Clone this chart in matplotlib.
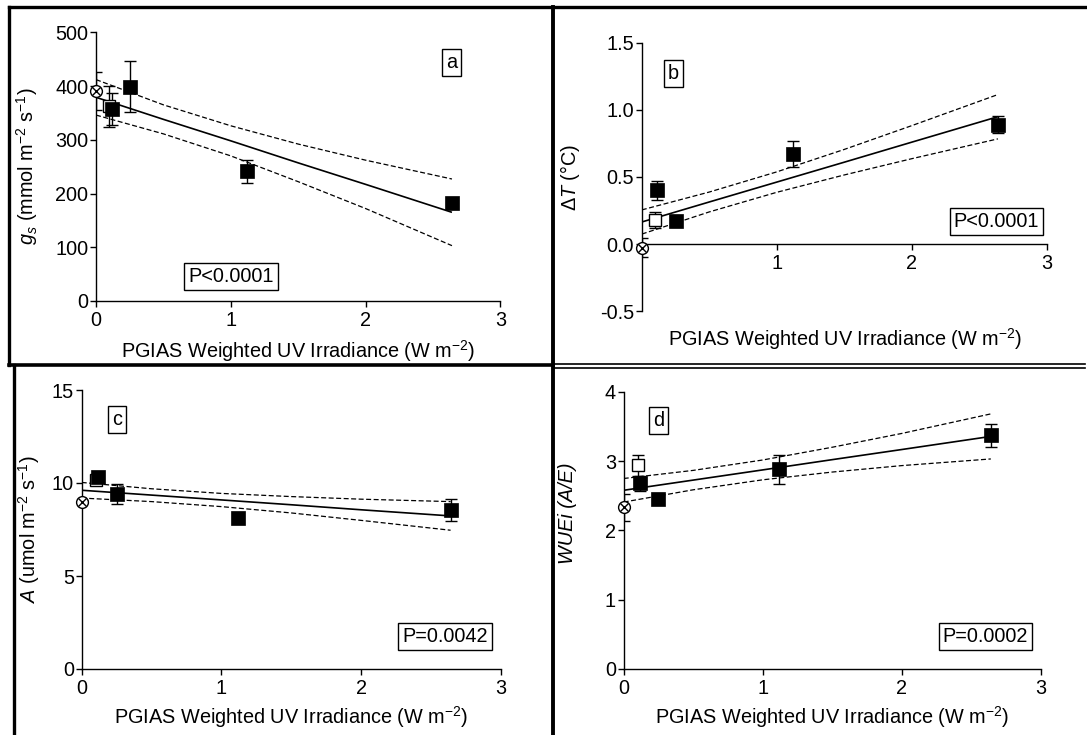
import matplotlib
matplotlib.use('Agg')
import matplotlib.pyplot as plt
from matplotlib.lines import Line2D

plt.rcParams['font.family'] = ['Liberation Sans', 'DejaVu Sans']
plt.rcParams['mathtext.fontset'] = 'custom'
plt.rcParams['mathtext.rm'] = 'Liberation Sans'
plt.rcParams['mathtext.it'] = 'Liberation Sans:italic'
plt.rcParams['mathtext.bf'] = 'Liberation Sans:bold'
plt.rcParams['axes.unicode_minus'] = False

# ---------------- data ----------------
uv_ctrl = 0.0
uv_open = 0.10
uv_filled = [0.115, 0.25, 1.12, 2.64]
fit_x = [0.0, 0.5, 1.0, 1.5, 2.0, 2.64]
x_ticks = [0, 1, 2, 3]
x_label = 'PGIAS Weighted UV Irradiance (W m$^{-2}$)'

# (a) stomatal conductance
gs_ctrl, gs_ctrl_err = 391, 36
gs_open, gs_open_err = 362, 38
gs_filled = [357, 399, 241, 182]
gs_filled_err = [30, 47, 21, 6]
gs_fit = [379, 338, 298, 257, 217, 165]
gs_upper = [412, 365, 326, 292, 262, 227]
gs_lower = [346, 311, 270, 222, 172, 103]
gs_ticks = [0, 100, 200, 300, 400, 500]
gs_ticklabels = ['0', '100', '200', '300', '400', '500']

# (b) leaf temperature difference
dt_ctrl, dt_ctrl_err = -0.025, 0.07
dt_open, dt_open_err = 0.18, 0.06
dt_filled = [0.40, 0.17, 0.67, 0.89]
dt_filled_err = [0.07, 0.03, 0.095, 0.065]
dt_fit = [0.165, 0.314, 0.462, 0.610, 0.759, 0.949]
dt_upper = [0.255, 0.388, 0.538, 0.705, 0.882, 1.114]
dt_lower = [0.075, 0.240, 0.386, 0.515, 0.636, 0.784]
dt_ticks = [-0.5, 0.0, 0.5, 1.0, 1.5]
dt_ticklabels = ['-0.5', '0.0', '0.5', '1.0', '1.5']

# (c) assimilation
a_ctrl, a_ctrl_err = 9.0, 0.1
a_open, a_open_err = 10.16, 0.1
a_filled = [10.34, 9.39, 8.13, 8.55]
a_filled_err = [0.15, 0.54, 0.1, 0.6]
a_fit = [9.61, 9.35, 9.09, 8.83, 8.56, 8.23]
a_upper = [10.03, 9.69, 9.44, 9.27, 9.13, 9.00]
a_lower = [9.19, 9.00, 8.73, 8.39, 7.99, 7.46]
a_ticks = [0, 5, 10, 15]
a_ticklabels = ['0', '5', '10', '15']

# (d) water use efficiency
w_ctrl, w_ctrl_err = 2.33, 0.2
w_open, w_open_err = 2.94, 0.15
w_filled = [2.68, 2.45, 2.88, 3.37]
w_filled_err = [0.11, 0.05, 0.21, 0.17]
w_fit = [2.578, 2.725, 2.872, 3.020, 3.166, 3.355]
w_upper = [2.748, 2.865, 3.015, 3.199, 3.398, 3.680]
w_lower = [2.408, 2.585, 2.729, 2.841, 2.934, 3.030]
w_ticks = [0, 1, 2, 3, 4]
w_ticklabels = ['0', '1', '2', '3', '4']

FS = 14.3
W, H = 1087, 735
fig = plt.figure(figsize=(W / 100, H / 100), dpi=100)


def px_axes(x0, x3, ytop, ybot):
    return fig.add_axes([x0 / W, 1 - ybot / H, (x3 - x0) / W, (ybot - ytop) / H])


def panel(ax, ctrl, ctrl_err, opn, opn_err, filled, filled_err, fit, up, lo,
          ylim, yticks, yticklabels, ylabel, ylab_xy, xlab_xy, letter, letter_xy,
          ptext, p_xy, xaxis_at_zero=False, xticklabels=None):
    ax.set_xlim(0, 3)
    ax.set_ylim(*ylim)
    ax.plot(fit_x, fit, color='k', lw=1.2, zorder=2, solid_capstyle='butt')
    ax.plot(fit_x, up, color='k', lw=0.9, ls=(0, (4, 2)), zorder=2)
    ax.plot(fit_x, lo, color='k', lw=0.9, ls=(0, (4, 2)), zorder=2)
    eb = dict(fmt='none', ecolor='k', elinewidth=1.0, capsize=4.5, capthick=1.0, zorder=3)
    for x, y, e in [(uv_ctrl, ctrl, ctrl_err), (uv_open, opn, opn_err)]:
        ax.errorbar([x], [y], yerr=[e], **eb)
    ax.errorbar(uv_filled, filled, yerr=filled_err, **eb)
    ax.plot([uv_ctrl], [ctrl], marker='o', ms=8.5, mfc='white', mec='k', mew=1.0,
            ls='none', zorder=4, clip_on=False)
    ax.plot([uv_ctrl], [ctrl], marker='x', ms=5.8, mec='k', mew=1.0,
            ls='none', zorder=5, clip_on=False)
    ax.plot([uv_open], [opn], marker='s', ms=8.5, mfc='white', mec='k', mew=1.0,
            ls='none', zorder=4, clip_on=False)
    ax.plot(uv_filled, filled, marker='s', ms=10.5, mfc='k', mec='k', mew=0.5,
            ls='none', zorder=6, clip_on=False)
    for sp in ['top', 'right']:
        ax.spines[sp].set_visible(False)
    ax.spines['left'].set_linewidth(1.0)
    ax.spines['bottom'].set_linewidth(1.0)
    if xaxis_at_zero:
        ax.spines['bottom'].set_position(('data', 0))
    ax.set_xticks(x_ticks)
    ax.set_xticklabels(xticklabels if xticklabels else [str(t) for t in x_ticks])
    ax.set_yticks(yticks)
    ax.set_yticklabels(yticklabels)
    ax.tick_params(direction='out', length=4, width=1.0, labelsize=FS)
    ax.tick_params(axis='y', pad=1.5)
    ax.tick_params(axis='x', pad=3.0)
    ax.set_ylabel(ylabel, fontsize=FS)
    ax.yaxis.set_label_coords(*ylab_xy)
    ax.set_xlabel(x_label, fontsize=FS, va='center')
    ax.xaxis.set_label_coords(*xlab_xy)
    ax.text(letter_xy[0], letter_xy[1], letter, fontsize=FS, ha='center', va='center',
            bbox=dict(boxstyle='square,pad=0.2', fc='white', ec='k', lw=1.0), zorder=7)
    ax.text(p_xy[0], p_xy[1], ptext, fontsize=FS, ha='center', va='center',
            bbox=dict(boxstyle='square,pad=0.2', fc='white', ec='k', lw=1.0), zorder=7)


ax_a = px_axes(96, 500.5, 32.3, 301)
panel(ax_a, gs_ctrl, gs_ctrl_err, gs_open, gs_open_err, gs_filled, gs_filled_err,
      gs_fit, gs_upper, gs_lower, (0, 500), gs_ticks, gs_ticklabels,
      r'$\mathit{g}_{\mathit{s}}$ (mmol m$^{-2}$ s$^{-1}$)', (-0.138, 0.5), (0.499, -0.186),
      'a', (2.64, 443), 'P<0.0001', (1.0, 46))

ax_b = px_axes(641.8, 1046.5, 42.7, 311.3)
panel(ax_b, dt_ctrl, dt_ctrl_err, dt_open, dt_open_err, dt_filled, dt_filled_err,
      dt_fit, dt_upper, dt_lower, (-0.5, 1.5), dt_ticks, dt_ticklabels,
      r'$\mathit{\Delta T}$ (°C)', (-0.148, 0.5), (0.502, -0.103),
      'b', (0.235, 1.27), 'P<0.0001', (2.63, 0.17), xaxis_at_zero=True,
      xticklabels=['', '1', '2', '3'])

ax_c = px_axes(81.7, 500.9, 390, 669)
panel(ax_c, a_ctrl, a_ctrl_err, a_open, a_open_err, a_filled, a_filled_err,
      a_fit, a_upper, a_lower, (0, 15), a_ticks, a_ticklabels,
      r'$\mathit{A}$ (umol m$^{-2}$ s$^{-1}$)', (-0.095, 0.5), (0.499, -0.172),
      'c', (0.25, 13.4), 'P=0.0042', (2.6, 1.74))

ax_d = px_axes(623.7, 1040.9, 391.7, 669)
panel(ax_d, w_ctrl, w_ctrl_err, w_open, w_open_err, w_filled, w_filled_err,
      w_fit, w_upper, w_lower, (0, 4), w_ticks, w_ticklabels,
      'WUEi (A/E)', (-0.113, 0.562), (0.499, -0.172),
      'd', (0.25, 3.59), 'P=0.0002', (2.6, 0.47))
ax_d.yaxis.label.set_fontstyle('italic')

# ---------------- panel frame lines ----------------
def fline(xs, ys, lw):
    fig.add_artist(Line2D([x / W for x in xs], [1 - y / H for y in ys],
                          color='k', lw=lw, solid_capstyle='projecting'))

fline([9, 1085], [7, 7], 2.4)
fline([9, 9], [7, 365], 2.4)
fline([9, 553], [365, 365], 2.6)
fline([553, 553], [7, 735], 2.8)
fline([14, 14], [365, 735], 2.4)
fline([553, 1085], [363.5, 363.5], 1.2)
fline([553, 1085], [367.5, 367.5], 1.2)

fig.savefig('out.png', dpi=100)
